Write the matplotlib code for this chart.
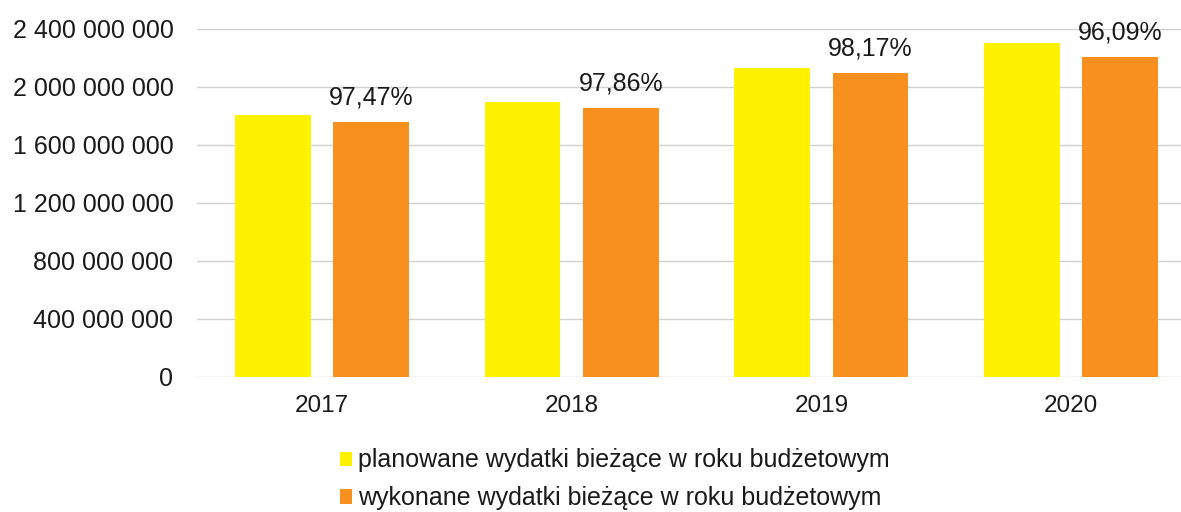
import matplotlib
matplotlib.use('Agg')
import matplotlib.pyplot as plt
import numpy as np
from matplotlib.ticker import FuncFormatter

plt.rcParams['font.family'] = ['Liberation Sans', 'DejaVu Sans']

years = ['2017', '2018', '2019', '2020']
planned = [1807000000, 1899000000, 2134000000, 2300000000]
executed = [1761000000, 1858000000, 2095000000, 2210000000]
percent_labels = ['97,47%', '97,86%', '98,17%', '96,09%']
series_names = ['planowane wydatki bieżące w roku budżetowym',
                'wykonane wydatki bieżące w roku budżetowym']

yellow = '#FFF200'
orange = '#F7901E'
text_col = '#1a1a1a'

fig = plt.figure(figsize=(11.81, 5.12), dpi=100)
ax = fig.add_axes([197/1181, 1 - 377/512, 999/1181, 348/512])

x = np.arange(len(years))
w = 0.303
off = 0.197
b1 = ax.bar(x - off, planned, w, color=yellow, label=series_names[0], zorder=2)
b2 = ax.bar(x + off, executed, w, color=orange, label=series_names[1], zorder=2)

# percentage above the executed bars
for xi, val, lab in zip(x, executed, percent_labels):
    ax.annotate(lab, (xi + off, val), xytext=(0, 9), textcoords='offset points',
                ha='center', va='bottom', fontsize=18, color=text_col)

ax.set_xlim(-0.5, 3.5)
ax.set_ylim(0, 2400000000)
ax.set_yticks(np.arange(0, 2400000001, 400000000))
ax.yaxis.set_major_formatter(FuncFormatter(lambda v, p: f'{int(v):,}'.replace(',', ' ')))
ax.set_xticks(x)
ax.set_xticklabels(years)
ax.tick_params(axis='y', length=0, pad=17, labelsize=18, labelcolor=text_col)
ax.tick_params(axis='x', length=0, pad=13, labelsize=17.5, labelcolor=text_col)
ax.grid(axis='y', color='#d0d0d0', linewidth=1, zorder=0)
for s in ax.spines.values():
    s.set_visible(False)

fig.legend(handles=[b1, b2], loc='upper left', bbox_to_anchor=(327/1181, 1 - 436/512),
           frameon=False, fontsize=18, handlelength=0.5, handleheight=0.5,
           handletextpad=0.25, labelspacing=0.55, borderpad=0, labelcolor=text_col)

fig.savefig('out.png', dpi=100)
